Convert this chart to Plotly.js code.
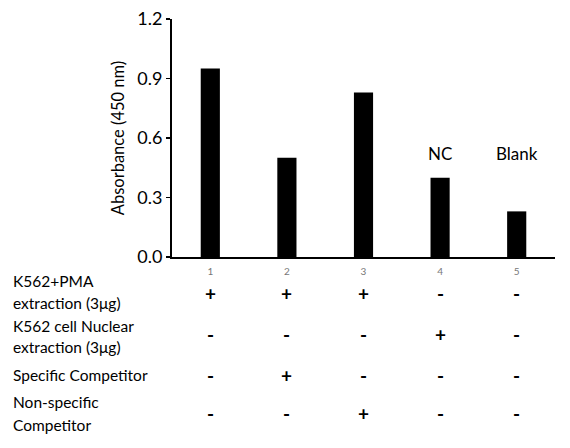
<!DOCTYPE html>
<html>
<head>
<meta charset="utf-8">
<script src="https://cdn.plot.ly/plotly-3.0.1.min.js"></script>
<style>html,body{margin:0;padding:0;background:#fff;}</style>
</head>
<body>
<div id="chart" style="width:570px;height:448px;"></div>
<script>
const categories = ["1", "2", "3", "4", "5"];
const absorbance = [0.95, 0.50, 0.83, 0.40, 0.23];
const barLabels = ["", "", "", "NC", "Blank"];
const rowLabels = [
  ["K562+PMA", "extraction (3μg)"],
  ["K562 cell Nuclear", "extraction (3μg)"],
  ["Specific Competitor"],
  ["Non-specific", "Competitor"]
];
const rowSigns = [
  ["+", "+", "+", "-", "-"],
  ["-", "-", "-", "+", "-"],
  ["-", "+", "-", "-", "-"],
  ["-", "-", "+", "-", "-"]
];

const FONT = "Lato, 'Open Sans', sans-serif";
const H = 448, T = 19, B = 191;
const plotH = H - T - B;
const py = p => (H - B - p) / plotH;      // pixel y -> paper y
const L = 172, R = 15, plotW = 570 - L - R;
const px = p => (p - L) / plotW;          // pixel x -> paper x

// layout positions (pixels) for text
const barLabelY = 153;
const rowLineY = [[281, 303], [326, 347], [375], [402, 425]];
const rowSignY = [293, 334, 375, 413];

const annotations = [];
barLabels.forEach((t, i) => {
  if (!t) return;
  annotations.push({x: i, y: py(barLabelY), xref: 'x', yref: 'paper', text: t,
    showarrow: false, yanchor: 'middle', xanchor: 'center',
    font: {family: FONT, size: 17, color: '#000'}});
});
rowLabels.forEach((lines, r) => {
  lines.forEach((ln, k) => {
    annotations.push({x: px(11), y: py(rowLineY[r][k]), xref: 'paper', yref: 'paper',
      text: ln, showarrow: false, xanchor: 'left', yanchor: 'middle',
      font: {family: FONT, size: 15.5, color: '#000'}});
  });
});
rowSigns.forEach((signs, r) => {
  signs.forEach((s, i) => {
    annotations.push({x: i, y: py(rowSignY[r]), xref: 'x', yref: 'paper',
      text: '<b>' + s + '</b>', showarrow: false, xanchor: 'center', yanchor: 'middle',
      xshift: 0,
      font: {family: FONT, size: 19, color: '#000'}});
  });
});

const trace = {
  type: 'bar', x: categories, y: absorbance,
  marker: {color: '#000', line: {width: 0}},
  width: 0.25, hoverinfo: 'skip'
};

const layout = {
  width: 570, height: 448,
  margin: {l: L, r: R, t: T, b: B, pad: 0},
  paper_bgcolor: '#fff', plot_bgcolor: '#fff',
  showlegend: false,
  font: {family: FONT, color: '#000'},
  xaxis: {
    type: 'category', range: [-0.5, 4.5], showgrid: false, zeroline: false,
    showline: true, linecolor: '#000', linewidth: 2, ticks: '',
    ticklabelstandoff: 4,
    tickfont: {family: FONT, size: 10, color: '#777'}, fixedrange: true
  },
  yaxis: {
    range: [0, 1.2], dtick: 0.3, tick0: 0, tickformat: '.1f',
    showgrid: false, zeroline: false, showline: true, linecolor: '#000', linewidth: 2,
    ticks: 'outside', ticklen: 4, tickwidth: 1.5, tickcolor: '#000',
    tickfont: {family: FONT, size: 18, color: '#000'},
    title: {text: 'Absorbance (450 nm)', font: {family: FONT, size: 16.5, color: '#000'}, standoff: 8},
    fixedrange: true
  },
  annotations: annotations
};

Plotly.newPlot('chart', [trace], layout, {displayModeBar: false, staticPlot: true});
</script>
</body>
</html>
